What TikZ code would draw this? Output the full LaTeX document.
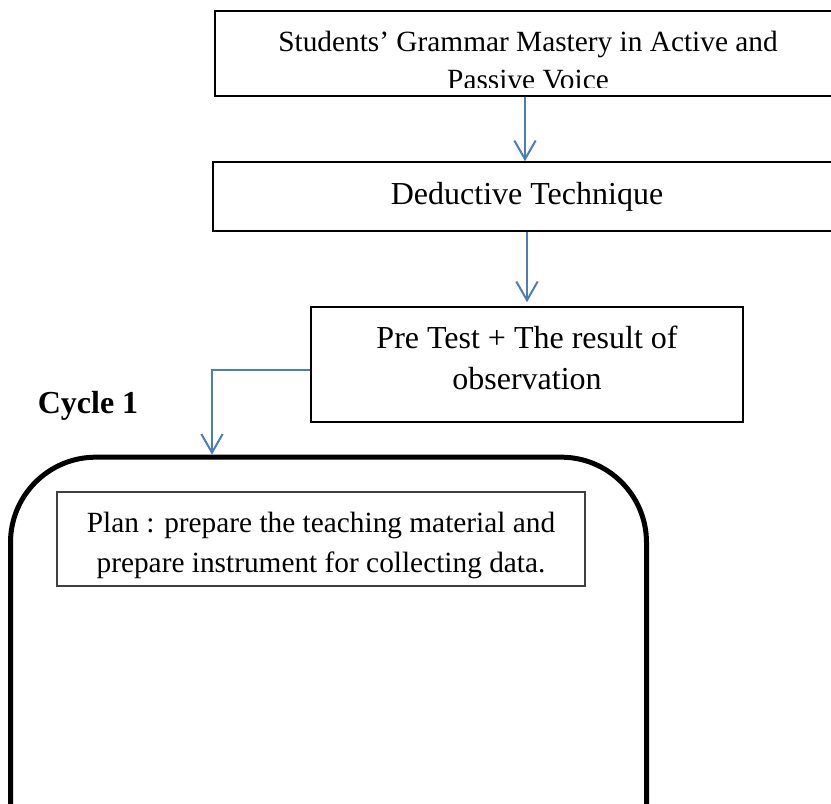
\documentclass[tikz,border=0pt]{standalone}
\usepackage{fontspec}
\setmainfont{Liberation Serif}
\usetikzlibrary{arrows.meta}
\definecolor{arrowblue}{RGB}{74,126,187}
\begin{document}
\begin{tikzpicture}[x=0.75pt,y=-0.75pt,
  box/.style={draw=black, line width=1.2pt, inner sep=0pt},
  tA/.style={font=\fontsize{22}{30}\selectfont, inner sep=0pt, anchor=base},
  tB/.style={font=\fontsize{24}{30}\selectfont, inner sep=0pt, anchor=base},
  flow/.style={draw=arrowblue, line width=1.5pt, -{Straight Barb[length=14pt,width=16pt,line width=1.5pt]}},
]
\useasboundingbox (0,0) rectangle (831,803);
\clip (0,0) rectangle (831,803);

% top box (text clipped by the box)
\node[box, minimum width=469.5pt, minimum height=63.75pt] (b1) at (528,53.5) {};
\begin{scope}
  \clip (215,11) rectangle (841,87.5);
  \node[tA] (t1a) at (528,51) {Students’ Grammar Mastery in Active and};
  \node[tA] (t1b) at (528,89.5) {Passive Voice};
\end{scope}

\node[box, minimum width=471pt, minimum height=51.75pt] (b2) at (527,196.5) {};
\node[tB] (t2) at (527,204) {Deductive Technique};

\node[box, minimum width=324pt, minimum height=86.25pt] (b3) at (527,364.5) {};
\node[tB] (t3a) at (527,348.5) {Pre Test + The result of};
\node[tB] (t3b) at (527,389.5) {observation};

\node[tB, font=\fontsize{24}{30}\selectfont\bfseries] (cyc) at (88,413) {Cycle 1};

\node[draw=black, line width=3.75pt, rounded corners=64pt, minimum width=477pt,
  minimum height=482pt, inner sep=0pt] (rb) at (328.5,778.5) {};

\node[draw=black!75, line width=0.9pt, minimum width=396pt, minimum height=70.5pt,
  inner sep=0pt] (plan) at (321,539) {};
\node[tA] (p1) at (321,532) {Plan : prepare the teaching material and};
\node[tA] (p2) at (321,572) {prepare instrument for collecting data.};

\coordinate (x1) at (525,0);
\coordinate (x2) at (527,0);
\coordinate (c1) at (212,370);

\draw[flow] (b1.south -| x1) -- (b2.north -| x1);
\draw[flow, shorten >=3pt] (b2.south -| x2) -- (b3.north -| x2);
\draw[flow] (b3.west |- c1) -- (c1) -- (c1 |- rb.north);
\end{tikzpicture}
\end{document}
